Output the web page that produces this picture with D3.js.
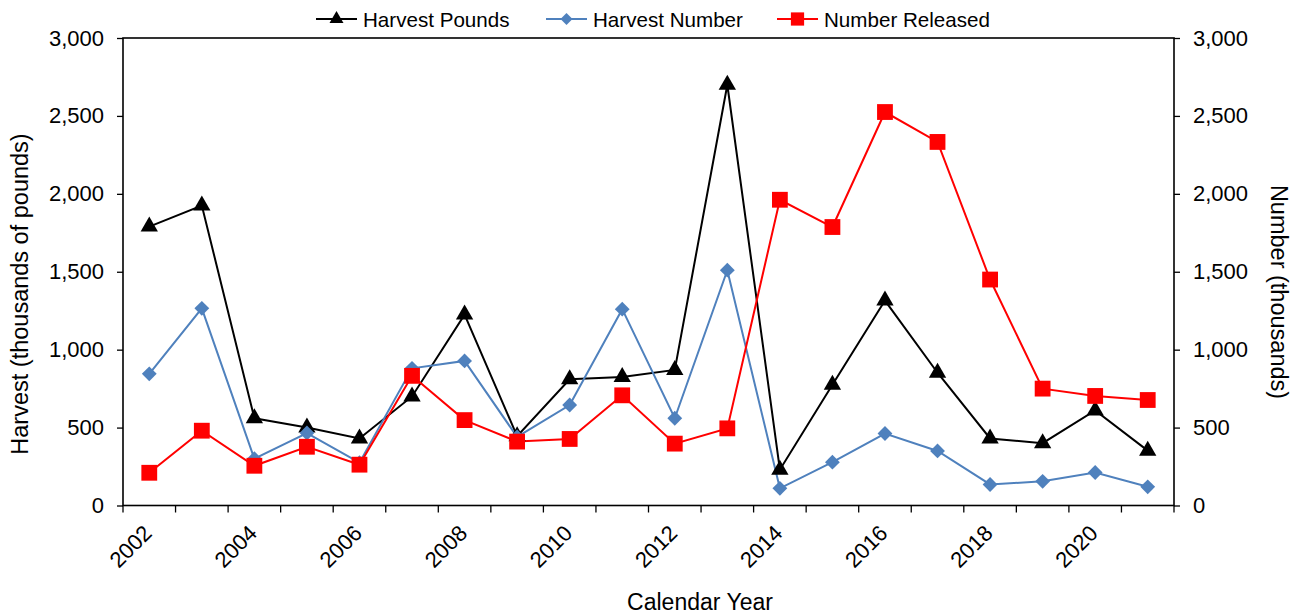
<!DOCTYPE html>
<html lang="en">
  <head>
    <meta charset="UTF-8" />
    <title>Harvest and Number Released</title>
    <style>
      html,
      body {
        margin: 0;
        background: #fff;
      }
      svg {
        display: block;
        font-family: "Liberation Sans", Arial, sans-serif;
      }
    </style>
    <script src="https://cdn.jsdelivr.net/npm/d3@7"></script>
  </head>
  <body>
    <svg id="chart" width="1309" height="616"></svg>
    <script>
      const years = [2002, 2003, 2004, 2005, 2006, 2007, 2008, 2009, 2010, 2011,
        2012, 2013, 2014, 2015, 2016, 2017, 2018, 2019, 2020, 2021];
      const harvestPounds = [1790, 1925, 560, 500, 430, 700, 1225, 445, 810, 825,
        870, 2700, 230, 775, 1315, 852, 430, 400, 610, 352];
      const harvestNumber = [845, 1265, 300, 465, 275, 880, 928, 440, 645, 1260,
        560, 1510, 110, 278, 462, 350, 135, 155, 212, 120];
      const numberReleased = [210, 480, 255, 377, 262, 832, 548, 410, 427, 707,
        397, 495, 1962, 1787, 2525, 2333, 1450, 750, 703, 677];
      const yearLabels = [2002, 2004, 2006, 2008, 2010, 2012, 2014, 2016, 2018, 2020];
      const yTicks = [0, 500, 1000, 1500, 2000, 2500, 3000];

      const series = [
        { name: "Harvest Pounds", values: harvestPounds, color: "#000000", shape: "triangle", axis: "left" },
        { name: "Harvest Number", values: harvestNumber, color: "#4F81BD", shape: "diamond", axis: "left" },
        { name: "Number Released", values: numberReleased, color: "#FF0000", shape: "square", axis: "right" },
      ];

      const svg = d3.select("#chart");
      const plotL = 123, plotR = 1174, plotT = 38, plotB = 505.5;

      const x = d3.scaleBand().domain(years).range([plotL, plotR]).padding(0);
      const cx = (d) => x(d) + x.bandwidth() / 2;
      const yL = d3.scaleLinear().domain([0, 3000]).range([plotB, plotT]);
      const yR = d3.scaleLinear().domain([0, 3000]).range([plotB, plotT]);
      const fmt = d3.format(",");

      // marker shapes, sized like the Excel ones
      function marker(shape, scale) {
        if (shape === "triangle") return d3.symbol(d3.symbolTriangle, 130 * scale)();
        if (shape === "square") return d3.symbol(d3.symbolSquare, 250 * scale)();
        return d3.symbol(d3.symbolSquare, 110 * scale)();
      }

      // frame
      svg.append("rect")
        .attr("x", plotL).attr("y", plotT)
        .attr("width", plotR - plotL).attr("height", plotB - plotT)
        .attr("fill", "none").attr("stroke", "#000").attr("stroke-width", 1.6);

      // left axis
      const gl = svg.append("g").attr("transform", `translate(${plotL},0)`)
        .call(d3.axisLeft(yL).tickValues(yTicks).tickFormat(fmt).tickSize(6).tickPadding(13));
      // right axis
      const gr = svg.append("g").attr("transform", `translate(${plotR},0)`)
        .call(d3.axisRight(yR).tickValues(yTicks).tickFormat(fmt).tickSize(6).tickPadding(13));
      [gl, gr].forEach((g) => {
        g.select(".domain").remove();
        g.selectAll("line").attr("stroke", "#000").attr("stroke-width", 1.3);
        g.selectAll("text").attr("font-size", 22).attr("fill", "#000")
          .attr("font-family", "'Liberation Sans', Arial, sans-serif");
      });

      // bottom axis: ticks at category boundaries
      const bounds = years.map((d) => x(d)).concat([plotR]);
      svg.append("g").selectAll("line").data(bounds).join("line")
        .attr("x1", (d) => d).attr("x2", (d) => d)
        .attr("y1", plotB).attr("y2", plotB + 7)
        .attr("stroke", "#000").attr("stroke-width", 1.3);
      svg.append("g").selectAll("text").data(yearLabels).join("text")
        .attr("transform", (d) => `translate(${cx(d) + 4},${plotB + 29}) rotate(-45)`)
        .attr("text-anchor", "end")
        .attr("font-size", 22)
        .text((d) => d);

      // lines and markers
      series.forEach((s) => {
        const y = s.axis === "left" ? yL : yR;
        const line = d3.line().x((d, i) => cx(years[i])).y((d) => y(d));
        svg.append("path").datum(s.values)
          .attr("d", line).attr("fill", "none")
          .attr("stroke", s.color).attr("stroke-width", 2);
      });
      series.forEach((s) => {
        const y = s.axis === "left" ? yL : yR;
        svg.append("g").selectAll("path").data(s.values).join("path")
          .attr("d", marker(s.shape, 1))
          .attr("transform", (d, i) =>
            `translate(${cx(years[i])},${y(d)})` + (s.shape === "diamond" ? " rotate(45)" : ""))
          .attr("fill", s.color);
      });

      // axis titles
      svg.append("text")
        .attr("transform", "translate(28,294) rotate(-90)")
        .attr("text-anchor", "middle").attr("font-size", 23.5)
        .text("Harvest (thousands of pounds)");
      svg.append("text")
        .attr("transform", "translate(1271,292) rotate(90)")
        .attr("text-anchor", "middle").attr("font-size", 23.5)
        .text("Number (thousands)");
      svg.append("text")
        .attr("x", 700).attr("y", 610)
        .attr("text-anchor", "middle").attr("font-size", 23)
        .text("Calendar Year");

      // legend
      const legendX = [316, 546, 777];
      const lg = svg.append("g").selectAll("g").data(series).join("g")
        .attr("transform", (d, i) => `translate(${legendX[i]},19)`);
      lg.append("line").attr("x1", 0).attr("x2", 41)
        .attr("stroke", (d) => d.color).attr("stroke-width", 2);
      lg.append("path")
        .attr("d", (d) => marker(d.shape, d.shape === "square" ? 0.7 : 0.65))
        .attr("transform", (d) => "translate(20.5,0)" + (d.shape === "diamond" ? " rotate(45)" : ""))
        .attr("fill", (d) => d.color);
      lg.append("text").attr("x", 47).attr("y", 7.5)
        .attr("font-size", 20.6)
        .text((d) => d.name);
    </script>
  </body>
</html>
